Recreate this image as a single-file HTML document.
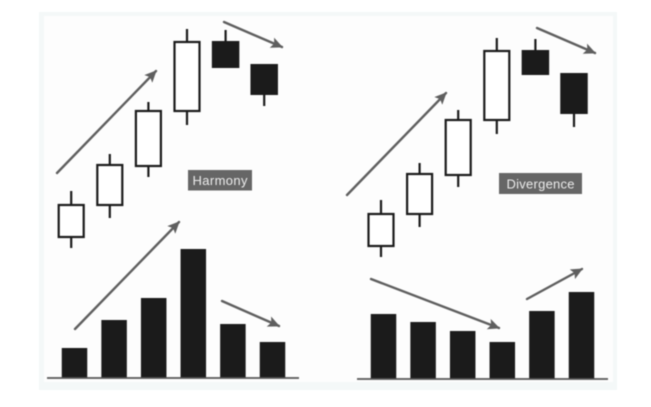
<!DOCTYPE html>
<html lang="en">
<head>
<meta charset="utf-8">
<title>Harmony and Divergence chart</title>
<style>
html,body{margin:0;padding:0;background:#fff;width:651px;height:407px;overflow:hidden}
svg{display:block;filter:blur(0.4px)}
text{font-family:"Liberation Sans",sans-serif;fill:#ececec;font-size:13px}
</style>
</head>
<body>
<svg id="chart" width="651" height="407" viewBox="0 0 651 407" xmlns="http://www.w3.org/2000/svg">
  <defs>
    <marker id="arrow-head" markerUnits="userSpaceOnUse" markerWidth="14" markerHeight="12" refX="11" refY="5.5" orient="auto">
      <path d="M0 0 L12 5.5 L0 11 L2.5 5.5 Z" fill="#5f5f5f"></path>
    </marker>
  </defs>
  <rect x="39" y="12" width="578" height="378" fill="#f4f8f8"></rect>
  <rect x="44" y="16" width="569" height="366" fill="#fdfdfd"></rect>
  <g id="layer-left-candles"></g>
  <g id="layer-right-candles"></g>
  <g id="layer-left-bars"></g>
  <g id="layer-right-bars"></g>
  <line x1="47" y1="378" x2="299" y2="378" stroke="#555" stroke-width="1.8"></line>
  <line x1="357" y1="379" x2="608" y2="379" stroke="#555" stroke-width="1.8"></line>
  <g fill="none" stroke="#5f5f5f" stroke-width="2.4" stroke-linecap="round">
    <line x1="57" y1="173" x2="156" y2="71" marker-end="url(#arrow-head)"></line>
    <line x1="224" y1="22" x2="282" y2="47" marker-end="url(#arrow-head)"></line>
    <line x1="75" y1="329" x2="179" y2="222" marker-end="url(#arrow-head)"></line>
    <line x1="222" y1="301" x2="279" y2="326" marker-end="url(#arrow-head)"></line>
    <line x1="347" y1="195" x2="446" y2="93" marker-end="url(#arrow-head)"></line>
    <line x1="537" y1="28" x2="595" y2="53" marker-end="url(#arrow-head)"></line>
    <line x1="371" y1="279" x2="499" y2="328" marker-end="url(#arrow-head)"></line>
    <line x1="527" y1="299" x2="582" y2="269" marker-end="url(#arrow-head)"></line>
  </g>
  <rect x="188" y="170" width="64" height="20.5" fill="#666"></rect>
  <text x="220" y="185" text-anchor="middle" textLength="55" lengthAdjust="spacing">Harmony</text>
  <rect x="499" y="173" width="83" height="21" fill="#666"></rect>
  <text x="540.5" y="188.5" text-anchor="middle" textLength="68" lengthAdjust="spacing">Divergence</text>
</svg>
<script>
const leftOpen = [23, 55, 94, 149, 219, 196];
const leftClose = [55, 95, 149, 218, 192, 165];
const leftHigh = [69, 106, 158, 231, 230, 196];
const leftLow = [12, 42, 83, 135, 192, 154];

const rightOpen = [24, 56, 95, 150, 220, 197];
const rightClose = [56, 96, 150, 219, 195, 156];
const rightHigh = [70, 107, 160, 232, 231, 197];
const rightLow = [13, 43, 83, 136, 195, 143];

const leftVolume = [30, 58, 80, 129, 54, 36];
const rightVolume = [65, 57, 48, 37, 68, 87];

const SVG_NS = 'http://www.w3.org/2000/svg';
const INK = '#1b1b1b';

function priceY(base, value) {
  return base - value;
}
function candleX(start, index) {
  return start + index * 38.6;
}
function barX(start, index) {
  return start + index * 39.6;
}
function volumeY(base, value) {
  return base - value;
}

function drawCandles(layerId, prefix, startX, baseY, open, close, high, low) {
  const layer = document.getElementById(layerId);
  open.forEach(function (openValue, i) {
    const cx = candleX(startX, i);
    const closeValue = close[i];
    const rising = closeValue >= openValue;
    const top = priceY(baseY, Math.max(openValue, closeValue));
    const bottom = priceY(baseY, Math.min(openValue, closeValue));

    const group = document.createElementNS(SVG_NS, 'g');
    
    

    const upperWick = document.createElementNS(SVG_NS, 'line');
    
    
    upperWick.setAttribute('x1', cx);
    upperWick.setAttribute('x2', cx);
    upperWick.setAttribute('y1', priceY(baseY, high[i]));
    upperWick.setAttribute('y2', top);
    upperWick.setAttribute('stroke', INK);
    upperWick.setAttribute('stroke-width', 2.2);
    group.appendChild(upperWick);

    const lowerWick = document.createElementNS(SVG_NS, 'line');
    
    
    lowerWick.setAttribute('x1', cx);
    lowerWick.setAttribute('x2', cx);
    lowerWick.setAttribute('y1', bottom);
    lowerWick.setAttribute('y2', priceY(baseY, low[i]));
    lowerWick.setAttribute('stroke', INK);
    lowerWick.setAttribute('stroke-width', 2.2);
    group.appendChild(lowerWick);

    const body = document.createElementNS(SVG_NS, 'rect');
    
    
    if (rising) {
      body.setAttribute('x', cx - 12.5);
      body.setAttribute('width', 25);
      body.setAttribute('y', top);
      body.setAttribute('height', bottom - top);
      body.setAttribute('fill', '#fff');
      body.setAttribute('stroke', INK);
      body.setAttribute('stroke-width', 2.2);
    } else {
      body.setAttribute('x', cx - 13.75);
      body.setAttribute('width', 27.5);
      body.setAttribute('y', top);
      body.setAttribute('height', bottom - top);
      body.setAttribute('fill', INK);
    }
    group.appendChild(body);
    layer.appendChild(group);
  });
}

function drawBars(layerId, prefix, startX, baseY, values) {
  const layer = document.getElementById(layerId);
  values.forEach(function (value, i) {
    const bar = document.createElementNS(SVG_NS, 'rect');
    
    
    bar.setAttribute('x', barX(startX, i) - 12.75);
    bar.setAttribute('width', 25.5);
    bar.setAttribute('y', volumeY(baseY, value));
    bar.setAttribute('height', baseY - volumeY(baseY, value));
    bar.setAttribute('fill', INK);
    layer.appendChild(bar);
  });
}

drawCandles('layer-left-candles', 'harmony', 71.2, 260, leftOpen, leftClose, leftHigh, leftLow);
drawCandles('layer-right-candles', 'divergence', 381, 270, rightOpen, rightClose, rightHigh, rightLow);
drawBars('layer-left-bars', 'harmony', 74.5, 378, leftVolume);
drawBars('layer-right-bars', 'divergence', 383.5, 379, rightVolume);
</script>
</body>
</html>
